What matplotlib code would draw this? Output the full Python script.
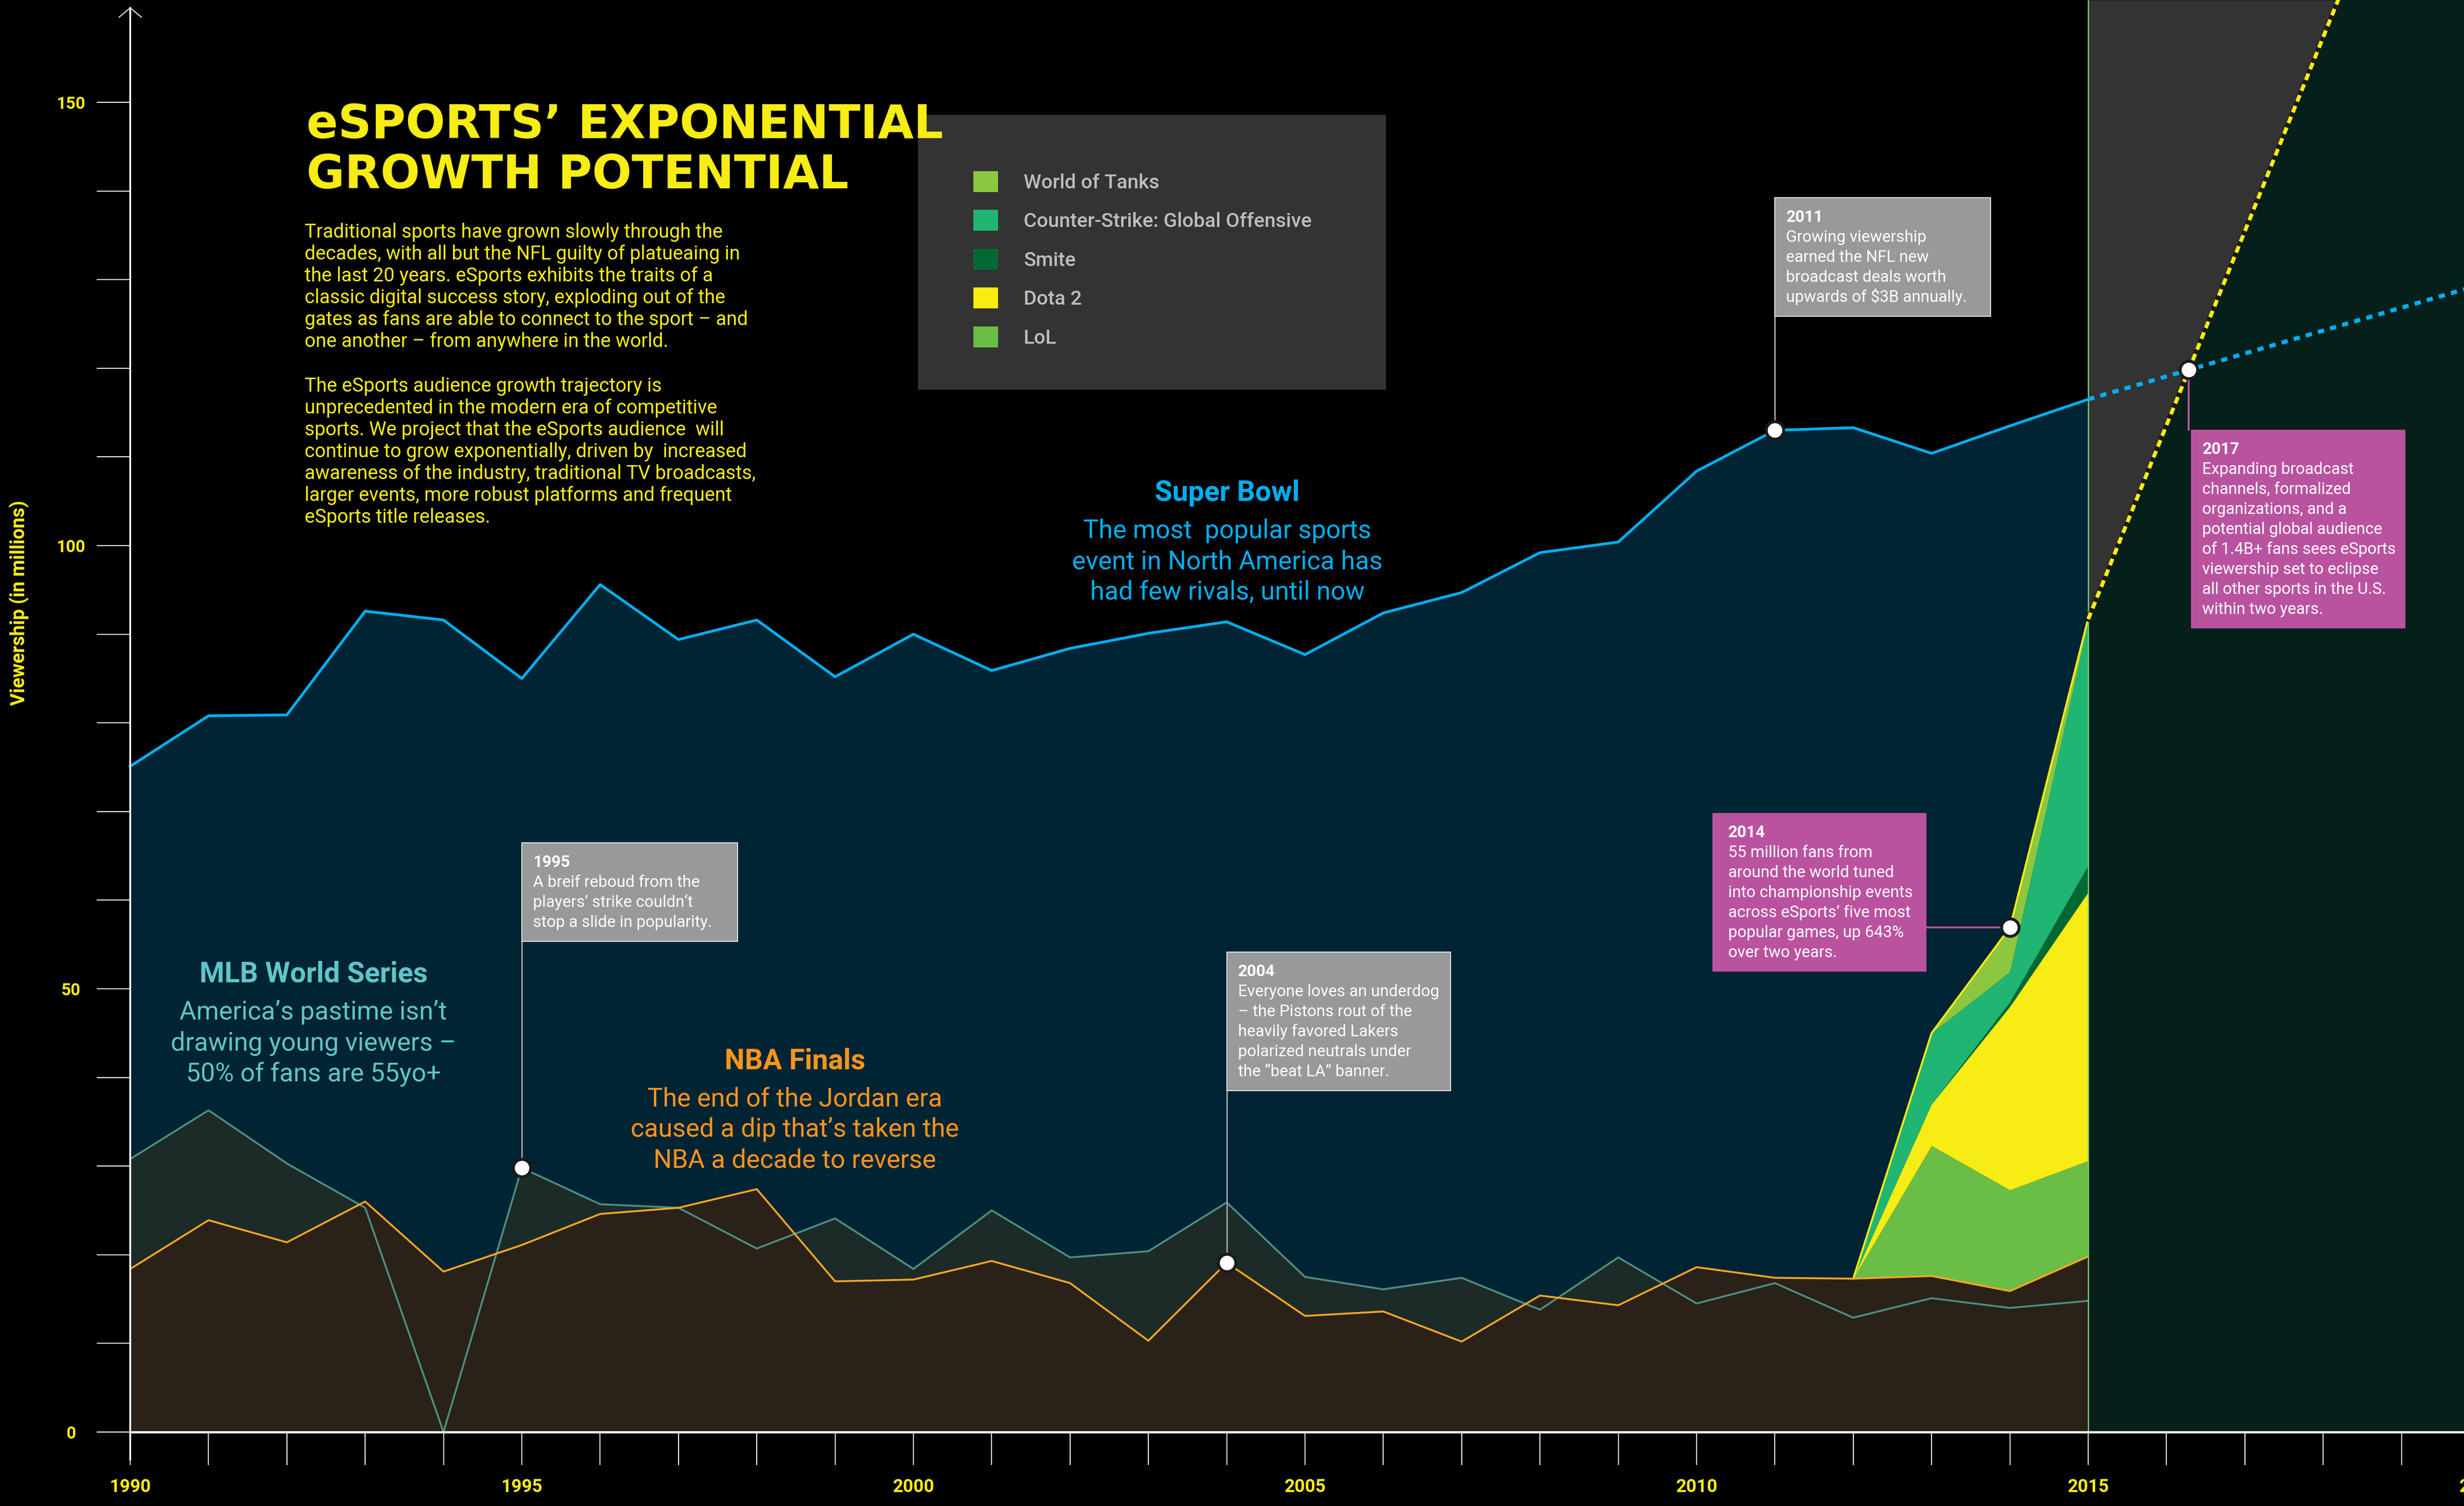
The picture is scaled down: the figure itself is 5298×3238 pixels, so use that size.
import numpy as np
import matplotlib
matplotlib.use("Agg")
import matplotlib.pyplot as plt
from matplotlib.patches import Rectangle, Patch

# viewership in millions
years = list(range(1990, 2016))
super_bowl = [75.1, 80.8, 80.9, 92.6, 91.6, 85.0, 95.6, 89.4, 91.6, 85.2,
              90.0, 85.9, 88.4, 90.1, 91.4, 87.7, 92.4, 94.7, 99.2, 100.4,
              108.4, 113.0, 113.3, 110.4, 113.5, 116.5]
world_series = [30.8, 36.3, 30.3, 25.3, 0.0, 29.8, 25.7, 25.3, 20.7, 24.1,
                18.4, 25.0, 19.7, 20.4, 25.9, 17.5, 16.1, 17.4, 13.8, 19.7,
                14.5, 16.8, 12.9, 15.1, 14.0, 14.8]
nba_finals = [18.4, 23.9, 21.4, 26.0, 18.1, 21.1, 24.6, 25.3, 27.4, 17.0,
              17.2, 19.3, 16.8, 10.3, 19.1, 13.1, 13.6, 10.2, 15.4, 14.3,
              18.6, 17.4, 17.3, 17.6, 15.9, 19.8]

# eSports titles, stacked on top of the NBA line (bottom layer first)
esports_years = [2012, 2013, 2014, 2015]
lol = [0.0, 14.7, 11.4, 10.8]
dota2 = [0.0, 4.7, 20.7, 30.3]
smite = [0.0, 0.0, 0.5, 3.0]
csgo = [0.0, 8.0, 3.4, 27.5]
world_of_tanks = [0.0, 0.0, 5.0, 0.4]
game_names = ["LoL", "Dota 2", "Smite", "Counter-Strike: Global Offensive", "World of Tanks"]
game_colors = ["#6abd45", "#f7ec13", "#036834", "#20b573", "#8dc63f"]

# projections past 2015
proj_years = [2015, 2021]
nfl_proj = [116.5, 132.0]
esports_proj = [91.7, 223.0]

x_ticks = list(range(1990, 2021, 5))
y_ticks = [0, 50, 100, 150]

YELLOW = "#f7ec13"
BLUE = "#00aeef"

# layout of the original: pixel <-> data
W, H, DPI = 5298, 3238, 100
X0_PX, PX_YR = 280, 168.4
Y0_PX, PX_VAL = 3079, 19.06


def dx(px):
    return 1990 + (px - X0_PX) / PX_YR


def dy(py):
    return (Y0_PX - py) / PX_VAL


plt.rcParams['font.family'] = ['Roboto', 'DejaVu Sans']

fig = plt.figure(figsize=(W / DPI, H / DPI), dpi=DPI, facecolor='black')
ax = fig.add_axes([0, 0, 5400 / W, 1], facecolor='black')
ax.set_xlim(dx(0), dx(5400))
ax.set_ylim(dy(H), dy(0))

# traditional sports areas
ax.fill_between(years, super_bowl, color='#002434', lw=0, zorder=1)
ax.fill_between(years, world_series, color='#1c2b27', lw=0, zorder=2)
ax.fill_between(years, nba_finals, color='#2a2119', lw=0, zorder=3)

# eSports stack
i0 = years.index(esports_years[0])
bottom = np.array(nba_finals[i0:])
for vals, col in zip([lol, dota2, smite, csgo, world_of_tanks], game_colors):
    top = bottom + np.array(vals)
    ax.fill_between(esports_years, bottom, top, color=col, lw=0, zorder=4)
    bottom = top
esports_total = bottom
ax.plot(esports_years, esports_total, color=YELLOW, lw=3, zorder=5)

ax.plot(years, super_bowl, color=BLUE, lw=4.3, zorder=5)
ax.plot(years, world_series, color='#4b8f82', lw=2.9, zorder=5)
ax.plot(years, nba_finals, color='#f6a623', lw=2.9, zorder=5)

# projection zone
ax.fill_between(proj_years, esports_proj, dy(0), color='#333333', lw=0, zorder=1)
ax.fill_between(proj_years, 0, esports_proj, color='#05201a', lw=0, zorder=1)
ax.vlines(2015, 0, dy(0), color='#7cc576', lw=2, zorder=6)
ax.plot(proj_years, nfl_proj, color=BLUE, lw=6.5, dashes=(1.5, 1.5), zorder=7)
ax.plot(proj_years, esports_proj, color='#1a1a1a', lw=7.5, zorder=7)
ax.plot(proj_years, esports_proj, color=YELLOW, lw=6, dashes=(1.8, 1.2), zorder=7)

sn = (nfl_proj[1] - nfl_proj[0]) / (proj_years[1] - proj_years[0])
se = (esports_proj[1] - esports_proj[0]) / (proj_years[1] - proj_years[0])
t = (nfl_proj[0] - esports_proj[0]) / (se - sn)
cross_x, cross_y = proj_years[0] + t, nfl_proj[0] + sn * t

# axes styling
for s in ['top', 'right']:
    ax.spines[s].set_visible(False)
ax.spines['left'].set_position(('data', 1990))
ax.spines['bottom'].set_position(('data', 0))
ax.spines['left'].set_bounds(dy(3138), dy(17))
ax.spines['bottom'].set_bounds(1990, dx(5400))
ax.spines['left'].set_color('white')
ax.spines['bottom'].set_color('white')
ax.spines['left'].set_linewidth(2.7)
ax.spines['bottom'].set_linewidth(3.4)
ax.spines['left'].set_zorder(6)
ax.spines['bottom'].set_zorder(6)

ax.set_xticks(x_ticks, labels=[str(v) for v in x_ticks], fontweight='bold')
ax.set_xticks(range(1990, 2021), minor=True)
ax.set_yticks(y_ticks, labels=[str(v) for v in y_ticks], fontweight='bold', ha='center')
ax.set_yticks(range(0, 151, 10), minor=True)
ax.tick_params(axis='x', which='both', direction='out', length=51, width=1.5,
               color='white', pad=21, labelsize=28, labelcolor=YELLOW)
ax.tick_params(axis='y', which='both', direction='out', length=52, width=1.5,
               color='white', pad=40, labelsize=26, labelcolor=YELLOW)

ax.plot([dx(256), 1990, dx(304)], [dy(37), dy(17), dy(37)], color='white', lw=1.5, zorder=6)

ax.set_ylabel("Viewership (in millions)", color=YELLOW, fontsize=30,
              fontweight='bold', va='center')
ax.yaxis.set_label_coords(41 / 5400, 1 - 1296 / H)

# title and intro
ax.text(dx(659), dy(297), "eSPORTS’ EXPONENTIAL", family='DejaVu Sans', weight='bold',
        size=72, color=YELLOW, va='baseline', zorder=12)
ax.text(dx(659), dy(405), "GROWTH POTENTIAL", family='DejaVu Sans', weight='bold',
        size=72, color=YELLOW, va='baseline', zorder=12)

intro_1 = ["Traditional sports have grown slowly through the",
           "decades, with all but the NFL guilty of platueaing in",
           "the last 20 years. eSports exhibits the traits of a",
           "classic digital success story, exploding out of the",
           "gates as fans are able to connect to the sport – and",
           "one another – from anywhere in the world."]
intro_2 = ["The eSports audience growth trajectory is",
           "unprecedented in the modern era of competitive",
           "sports. We project that the eSports audience  will",
           "continue to grow exponentially, driven by  increased",
           "awareness of the industry, traditional TV broadcasts,",
           "larger events, more robust platforms and frequent",
           "eSports title releases."]
for i, ln in enumerate(intro_1):
    ax.text(dx(655), dy(511 + 47 * i), ln, size=30, color=YELLOW, va='baseline', zorder=12)
for i, ln in enumerate(intro_2):
    ax.text(dx(655), dy(842 + 47 * i), ln, size=30, color=YELLOW, va='baseline', zorder=12)


def series_label(cx, base_py, head, lines, color):
    ax.text(dx(cx), dy(base_py), head, ha='center', va='baseline', size=44,
            weight='bold', color=color, zorder=11)
    for i, ln in enumerate(lines):
        ax.text(dx(cx), dy(base_py + 80 + 66 * i), ln, ha='center', va='baseline',
                size=40, color=color, zorder=11)


series_label(2639, 1077, "Super Bowl", ["The most  popular sports", "event in North America has",
                                        "had few rivals, until now"], BLUE)
series_label(674, 2112, "MLB World Series", ["America’s pastime isn’t", "drawing young viewers –",
                                              "50% of fans are 55yo+"], '#5fc5c9')
series_label(1709, 2298, "NBA Finals", ["The end of the Jordan era", "caused a dip that’s taken the",
                                        "NBA a decade to reverse"], '#f7941d')

# legend
ax.add_patch(Rectangle((dx(1974), dy(838)), 1006 / PX_YR, 591 / PX_VAL, color='#333333', lw=0, zorder=1))
handles = [Patch(facecolor=c, edgecolor='none', label=n) for n, c in zip(game_names, game_colors)][::-1]
ax.legend(handles=handles, loc='upper left', bbox_to_anchor=(dx(2093), dy(368)),
          bbox_transform=ax.transData, frameon=False,
          prop=dict(family='Roboto', weight='medium', size=31), labelcolor='#bdbdbd',
          handlelength=1.23, handleheight=1.23, handletextpad=1.28, labelspacing=0.87,
          borderpad=0, borderaxespad=0)


def note(left, top_py, width_px, head, lines, face, edge='none', pad_px=24):
    h_px = 52 + 43 * len(lines) + 31
    top = dy(top_py)
    ax.add_patch(Rectangle((left, top - h_px / PX_VAL), width_px / PX_YR, h_px / PX_VAL,
                           facecolor=face, edgecolor=edge, lw=1.5, zorder=8))
    tx = left + pad_px / PX_YR
    ax.text(tx, dy(top_py + 52), head, size=25, weight='bold', color='white',
            va='baseline', zorder=9)
    for i, ln in enumerate(lines):
        ax.text(tx, dy(top_py + 52 + 43 * (i + 1)), ln, size=25,
                color='white', va='baseline', zorder=9)
    return top - h_px / PX_VAL, top, left + width_px / PX_YR


GRAY_BOX, GRAY_EDGE, GRAY_LINE = '#999999', '#e6e6e6', '#a6a6a6'
MAGENTA = '#b9539f'
dot = dict(marker='o', ms=27, mfc='white', mec='#1a1a1a', mew=4.5, ls='none', zorder=10)

v = world_series[years.index(1995)]
b, _, _ = note(1995, 1812, 464, "1995", ["A breif reboud from the", "players’ strike couldn‘t",
                                         "stop a slide in popularity."], GRAY_BOX, GRAY_EDGE)
ax.plot([1995, 1995], [v, b], color=GRAY_LINE, lw=2.2, zorder=7)
ax.plot(1995, v, **dot)

v = nba_finals[years.index(2004)]
b, _, _ = note(2004, 2047, 481, "2004", ["Everyone loves an underdog", "– the Pistons rout of the",
                                         "heavily favored Lakers", "polarized neutrals under",
                                         "the “beat LA” banner."], GRAY_BOX, GRAY_EDGE)
ax.plot([2004, 2004], [v, b], color=GRAY_LINE, lw=2.2, zorder=7)
ax.plot(2004, v, **dot)

v = super_bowl[years.index(2011)]
b, _, _ = note(2011, 425, 464, "2011", ["Growing viewership", "earned the NFL new",
                                        "broadcast deals worth", "upwards of $3B annually."],
               GRAY_BOX, GRAY_EDGE)
ax.plot([2011, 2011], [v, b], color=GRAY_LINE, lw=2.2, zorder=7)
ax.plot(2011, v, **dot)

v = esports_total[esports_years.index(2014)]
_, _, r = note(dx(3682), 1748, 460, "2014", ["55 million fans from", "around the world tuned",
                                             "into championship events", "across eSports’ five most",
                                             "popular games, up 643%", "over two years."],
               MAGENTA, pad_px=34)
ax.plot([r, 2014], [v, v], color=MAGENTA, lw=3, zorder=7)
ax.plot(2014, v, **dot)

_, tp, _ = note(cross_x + 5 / PX_YR, 924, 461, "2017", ["Expanding broadcast", "channels, formalized",
                                                       "organizations, and a", "potential global audience",
                                                       "of 1.4B+ fans sees eSports", "viewership set to eclipse",
                                                       "all other sports in the U.S.", "within two years."],
                MAGENTA)
ax.plot([cross_x, cross_x], [cross_y, tp], color=MAGENTA, lw=3, zorder=7)
ax.plot(cross_x, cross_y, **dot)

fig.savefig("out.png", dpi=DPI, facecolor='black')
